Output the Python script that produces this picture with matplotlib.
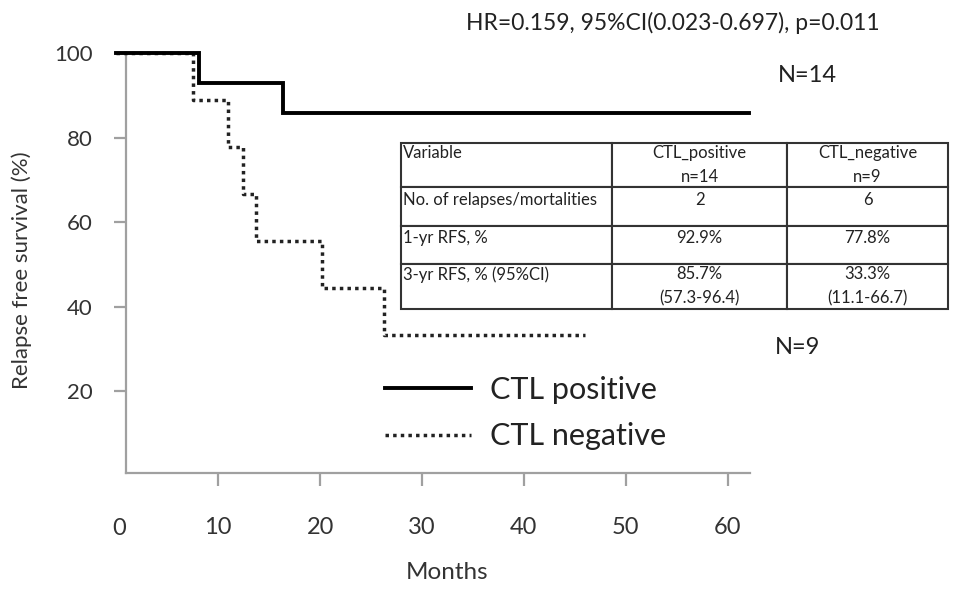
import matplotlib
matplotlib.use("Agg")
import matplotlib.pyplot as plt

plt.rcParams['font.family'] = ['Lato', 'DejaVu Sans']

# ---- data ----
pos_times = [0, 8.1, 16.4, 62.1]
pos_surv = [100, 92.9, 85.7, 85.7]
neg_times = [0, 7.5, 11.0, 12.4, 13.7, 20.2, 26.3, 46.0]
neg_surv = [100, 88.9, 77.8, 66.7, 55.6, 44.4, 33.3, 33.3]

x_ticks = [10, 20, 30, 40, 50, 60]
y_ticks = [20, 40, 60, 80, 100]

series_labels = ["CTL positive", "CTL negative"]
hr_text = "HR=0.159, 95%CI(0.023-0.697), p=0.011"
n_labels = ["N=14", "N=9"]

table_header = ["Variable", "CTL_positive\nn=14", "CTL_negative\nn=9"]
table_rows = [
    ["No. of relapses/mortalities", "2", "6"],
    ["1-yr RFS, %", "92.9%", "77.8%"],
    ["3-yr RFS, % (95%CI)", "85.7%\n(57.3-96.4)", "33.3%\n(11.1-66.7)"],
]

# ---- figure ----
fig = plt.figure(figsize=(9.69, 5.94), dpi=100)
W, H = 969, 594
ax = fig.add_axes([126 / W, 1 - 473 / H, (750 - 126) / W, (473 - 53) / H])

ax.step(pos_times, pos_surv, where='post', color='black', lw=2.8,
        solid_joinstyle='miter', label=series_labels[0], clip_on=False, zorder=4)
ax.step(neg_times, neg_surv, where='post', color='#222222', lw=2.5,
        linestyle=(0, (1, 1.2)), label=series_labels[1], clip_on=False, zorder=3)

ax.set_xlim(0.95, 62.2)
ax.set_ylim(0.7, 100)

spine_c = '#a0a0a0'
for s in ['top', 'right']:
    ax.spines[s].set_visible(False)
for s in ['left', 'bottom']:
    ax.spines[s].set_color(spine_c)
    ax.spines[s].set_linewidth(1.6)

ax.set_xticks(x_ticks)
ax.set_yticks(y_ticks)
ax.tick_params(axis='both', colors=spine_c, width=1.6, length=9,
               labelcolor='#333333', labelsize=16)
ax.tick_params(axis='x', pad=23, labelsize=17)
ax.tick_params(axis='y', pad=15)
# "0" label sits left of the axis start
ax.text(0.3, -0.107, "0", transform=ax.get_xaxis_transform(), ha='center',
        va='top', fontsize=17, color='#333333', clip_on=False)

ax.set_xlabel("Months", fontsize=17.5, color='#333333')
ax.xaxis.set_label_coords((447 - 126) / 624, (473 - 562) / 420)
fig.text(22 / W, 1 - 270 / H, "Relapse free survival (%)", rotation=90,
         ha='center', va='center', fontsize=16, color='#333333')

fig.text(673 / W, 1 - 23 / H, hr_text, ha='center', va='center',
         fontsize=16.5, color='#222222')
ax.text((778 - 126) / 624, (473 - 75) / 420, n_labels[0], transform=ax.transAxes,
        ha='left', va='center', fontsize=17, color='#222222', clip_on=False)
ax.text((775 - 126) / 624, (473 - 348) / 420, n_labels[1], transform=ax.transAxes,
        ha='left', va='center', fontsize=17, color='#222222', clip_on=False)

# legend
ax.legend(loc='upper left', bbox_to_anchor=((385 - 126) / 624, (473 - 376) / 420),
          frameon=False, fontsize=22, handlelength=2.8, handletextpad=0.65,
          borderpad=0, borderaxespad=0, labelspacing=0.6, labelcolor='#222222')

# table
cells = [table_header] + table_rows
col_w = [211, 175, 161]
row_h = [44, 39, 38, 45]
tx0, tx1, ty0, ty1 = 401, 948, 309, 143
tbl = ax.table(cellText=[[c if "\n" in c else c + "\n" for c in r] for r in cells],
               colWidths=[w / sum(col_w) for w in col_w],
               bbox=[(tx0 - 126) / 624, (473 - ty0) / 420,
                     (tx1 - tx0) / 624, (ty0 - ty1) / 420],
               cellLoc='center')
tbl.auto_set_font_size(False)
tbl.set_fontsize(12)
row_multi = [any("\n" in c for c in r) for r in cells]
for (r, c), cell in tbl.get_celld().items():
    cell.set_height(row_h[r] / sum(row_h))
    cell.set_edgecolor('#333333')
    cell.set_linewidth(1.5)
    cell.get_text().set_color('#222222')
    cell.get_text().set_linespacing(1.65 if row_multi[r] else 0.8)
    if c == 0:
        cell.get_text().set_horizontalalignment('left')
        cell.PAD = 0.01

fig.savefig("out.png", dpi=100)
